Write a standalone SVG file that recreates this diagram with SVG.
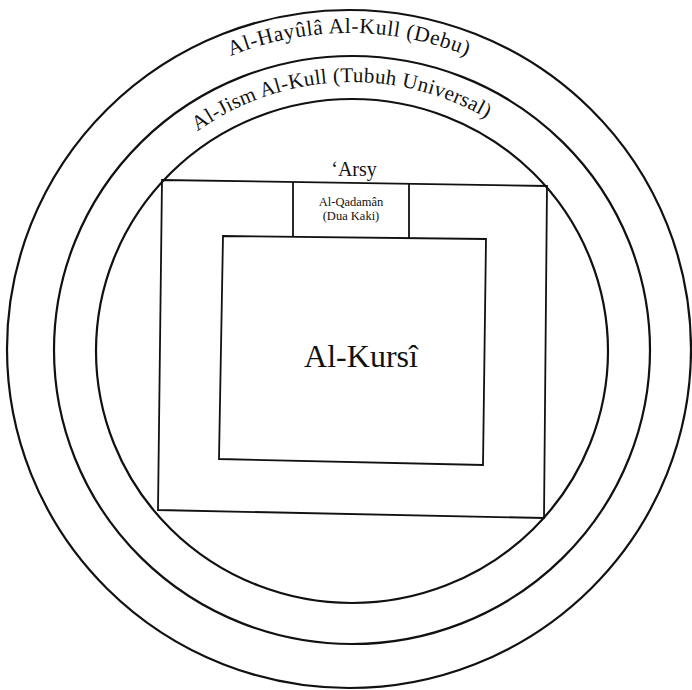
<svg xmlns="http://www.w3.org/2000/svg" width="692" height="690" viewBox="0 0 692 690">
<style>
.ring{fill:none;stroke:#111;stroke-width:2.2}
.box{fill:none;stroke:#111;stroke-width:1.8;stroke-linejoin:miter}
.t{font-family:"Liberation Serif","DejaVu Serif",serif;fill:#111}
</style>
<defs>
<path id="arcOuter" d="M 33 349 A 316 316 0 0 1 665 349"/>
<path id="arcMid" d="M 84 350 A 267 267 0 0 1 620 350"/>
</defs>
<rect width="692" height="690" fill="#fff"/>
<g id="hayula">
<ellipse class="ring" cx="349" cy="349" rx="342" ry="339"/>
<text class="t" font-size="21.5" letter-spacing="0.6" text-anchor="middle"><textPath href="#arcOuter" startOffset="50%">Al-Hayûlâ Al-Kull (Debu)</textPath></text>
</g>
<g id="jism">
<ellipse class="ring" cx="352" cy="350" rx="298" ry="294"/>
<text class="t" font-size="21" letter-spacing="0.3" text-anchor="middle"><textPath href="#arcMid" startOffset="48.6%">Al-Jism Al-Kull (Tubuh Universal)</textPath></text>
</g>
<g id="inner-ring">
<ellipse class="ring" cx="352" cy="351" rx="256" ry="252"/>
</g>
<g id="arsy">
<polygon class="box" points="162,180 547,186 544,518 158,510"/>
<text class="t" x="354" y="176" font-size="20" text-anchor="middle">‘Arsy</text>
</g>
<g id="kursi">
<polygon class="box" points="223,236 486,239 483,465 219,459"/>
<text class="t" x="361" y="367" font-size="32" text-anchor="middle">Al-Kursî</text>
</g>
<g id="qadaman">
<line class="box" x1="293" y1="182" x2="293" y2="236"/>
<line class="box" x1="409" y1="184" x2="409" y2="238"/>
<text class="t" x="351" y="206" font-size="12.5" text-anchor="middle">Al-Qadamân</text>
<text class="t" x="351" y="220" font-size="12.5" text-anchor="middle">(Dua Kaki)</text>
</g>
<g id="connectors"/>
</svg>
